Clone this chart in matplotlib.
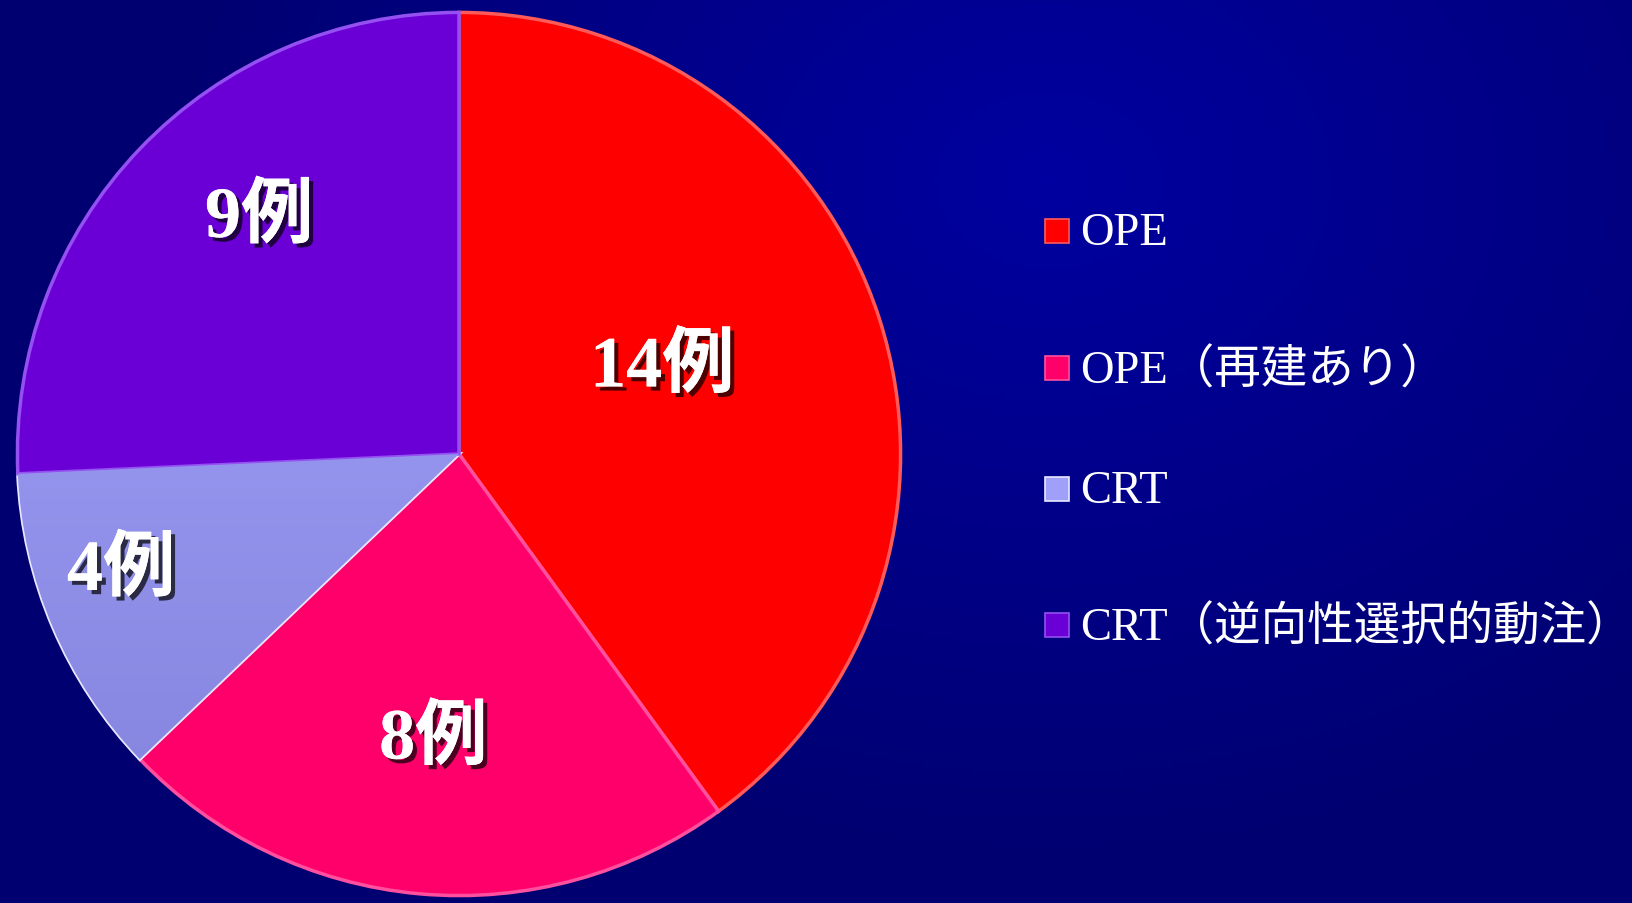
import numpy as np
import matplotlib
matplotlib.use("Agg")
import matplotlib.pyplot as plt
import matplotlib.patheffects as pe
from matplotlib.colors import LinearSegmentedColormap
from matplotlib.patches import Rectangle

# data
categories = ["OPE", "OPE（再建あり）", "CRT", "CRT（逆向性選択的動注）"]
counts = [14, 8, 4, 9]
value_labels = ["14例", "8例", "4例", "9例"]
colors = ["#ff0000", "#ff006a", "#a0a0fa", "#6a00d6"]
edge_colors = ["#ff5a5a", "#ff50a0", "#e8e8ff", "#9450f0"]

W, H = 1632, 904
fig = plt.figure(figsize=(W / 100, H / 100), dpi=100)

# background: soft radial glow, brightest upper right of centre
bg = fig.add_axes([0, 0, 1, 1])
yy, xx = np.mgrid[0:H:181j, 0:W:327j]
dist = np.hypot((xx - 1050) / 900, (yy - 180) / 700)
cmap = LinearSegmentedColormap.from_list("bg", ["#0000a0", "#000070"])
bg.imshow(np.clip(dist, 0, 1), cmap=cmap, extent=[0, W, H, 0], aspect="auto")
bg.set_xlim(0, W)
bg.set_ylim(H, 0)
bg.set_axis_off()

# pie
cx, cy, r = 459, 455, 446
ax = fig.add_axes([(cx - r) / W, (H - cy - r) / H, 2 * r / W, 2 * r / H])
wedges, _ = ax.pie(counts, colors=colors, startangle=90, counterclock=False,
                   radius=1, wedgeprops=dict(linewidth=2.5))
for w, ec in zip(wedges, edge_colors):
    w.set_edgecolor(ec)

# light-to-dark shading inside the CRT wedge
gy, gx = np.mgrid[-1:1:100j, -1:1:100j]
shade = LinearSegmentedColormap.from_list("crt", ["#8282dc", "#a6a6ff"])
im = ax.imshow(gy, cmap=shade, extent=[-1, 1, -1, 1], origin="lower", zorder=1.5)
im.set_clip_path(wedges[2])

ax.set_xlim(-1.01, 1.01)
ax.set_ylim(-1.01, 1.01)
ax.set_aspect("equal")
ax.set_axis_off()

label_font = ["Liberation Serif", "Noto Sans CJK JP"]
label_dist = [0.5, 0.65, 0.81, 0.7]
label_shift = [5, 0, -4, -6]
shadow = [pe.withSimplePatchShadow(offset=(3, -3), shadow_rgbFace="black", alpha=0.7),
          pe.Normal()]
for w, txt, d, s in zip(wedges, value_labels, label_dist, label_shift):
    ang = np.deg2rad((w.theta1 + w.theta2) / 2 + s)
    ax.text(d * np.cos(ang), d * np.sin(ang), txt, ha="center", va="center",
            color="white", fontsize=52, fontweight="bold", family=label_font,
            path_effects=shadow, zorder=3)

# legend drawn by hand
legend_font = ["Liberation Serif", "Noto Sans CJK JP"]
row_y = [234, 371, 492, 628]
for name, col, ec, y in zip(categories, colors, edge_colors, row_y):
    fig.patches.append(Rectangle((1045 / W, (H - y - 10) / H), 24 / W, 24 / H,
                                 transform=fig.transFigure, facecolor=col,
                                 edgecolor=ec, linewidth=1.2))
    fig.text(1080 / W, (H - y) / H, name, color="white", fontsize=33.5,
             family=legend_font, ha="left", va="center")

fig.savefig("out.png", dpi=100)
